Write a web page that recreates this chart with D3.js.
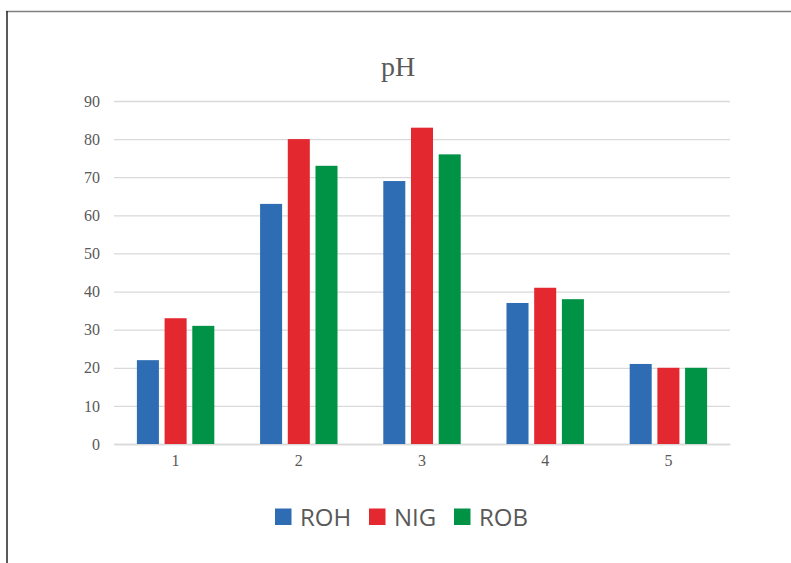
<!DOCTYPE html>
<html><head><meta charset="utf-8">
<script src="https://cdn.jsdelivr.net/npm/d3@7"></script>
<style>body{margin:0;background:#fff}svg{display:block}</style>
</head><body>
<svg id="c" width="791" height="563"></svg>
<script>
const categories = ["1","2","3","4","5"];
const seriesNames = ["ROH","NIG","ROB"];
const ROH = [22,63,69,37,21];
const NIG = [33,80,83,41,20];
const ROB = [31,73,76,38,20];
const colors = ["#2e6db4","#e3282f","#009245"];
const yTicks = [0,10,20,30,40,50,60,70,80,90];
const title = "pH";

(function(){
const svg = d3.select("#c");
const W = 791, H = 563;
const mLeft = 114, mRight = 730, mTop = 101, mBottom = 444;

svg.append("line").attr("x1",6).attr("x2",W).attr("y1",11.5).attr("y2",11.5).attr("stroke","#7f7f7f").attr("stroke-width",1.5);
svg.append("line").attr("x1",7).attr("x2",7).attr("y1",11).attr("y2",H).attr("stroke","#222").attr("stroke-width",1.5);

const x = d3.scaleBand().domain(categories).range([mLeft,mRight]).paddingInner(0).paddingOuter(0);
const y = d3.scaleLinear().domain([0,90]).range([mBottom,mTop]);

const yAxis = d3.axisLeft(y).tickValues(yTicks).tickSize(-(mRight-mLeft)).tickPadding(14);
const gy = svg.append("g").attr("transform",`translate(${mLeft},0)`).call(yAxis);
gy.select(".domain").remove();
gy.selectAll(".tick line").attr("stroke","#d9d9d9").attr("stroke-width",1.3);
gy.selectAll(".tick text").attr("fill","#595959").style("font-family","'Liberation Serif', serif").style("font-size","16px");

const xAxis = d3.axisBottom(x).tickSize(0).tickPadding(11);
const gx = svg.append("g").attr("transform",`translate(0,${mBottom})`).call(xAxis);
gx.select(".domain").attr("stroke","#d9d9d9").attr("stroke-width",1.3);
gx.selectAll(".tick text").attr("fill","#595959").style("font-family","'Liberation Serif', serif").style("font-size","16px");

const data = [ROH,NIG,ROB];
const inner = d3.scaleBand().domain(seriesNames).range([0,x.bandwidth()]).paddingInner(0.205).paddingOuter(0.826);

seriesNames.forEach((s,si)=>{
  svg.append("g").selectAll("rect").data(categories).join("rect")
    .attr("x",(c)=>x(c)+inner(s))
    .attr("width",inner.bandwidth())
    .attr("y",(c,i)=>y(data[si][i]))
    .attr("height",(c,i)=>y(0)-y(data[si][i]))
    .attr("fill",colors[si]);
});

svg.append("text").attr("x",(mLeft+mRight)/2-24).attr("y",76).attr("text-anchor","middle")
  .attr("fill","#595959").style("font-family","'Liberation Serif', serif").style("font-size","28px").text(title);

const lg = svg.append("g");
const legendX = [275, 369, 454];
seriesNames.forEach((s,i)=>{
  lg.append("rect").attr("x",legendX[i]).attr("y",508.5).attr("width",16.5).attr("height",16.5).attr("fill",colors[i]);
  lg.append("text").attr("x",legendX[i]+25).attr("y",525.5).attr("fill","#595959")
    .style("font-family","'Open Sans', 'Liberation Sans', sans-serif").style("font-size","24px").text(s);
});
})();
</script>
</body></html>
